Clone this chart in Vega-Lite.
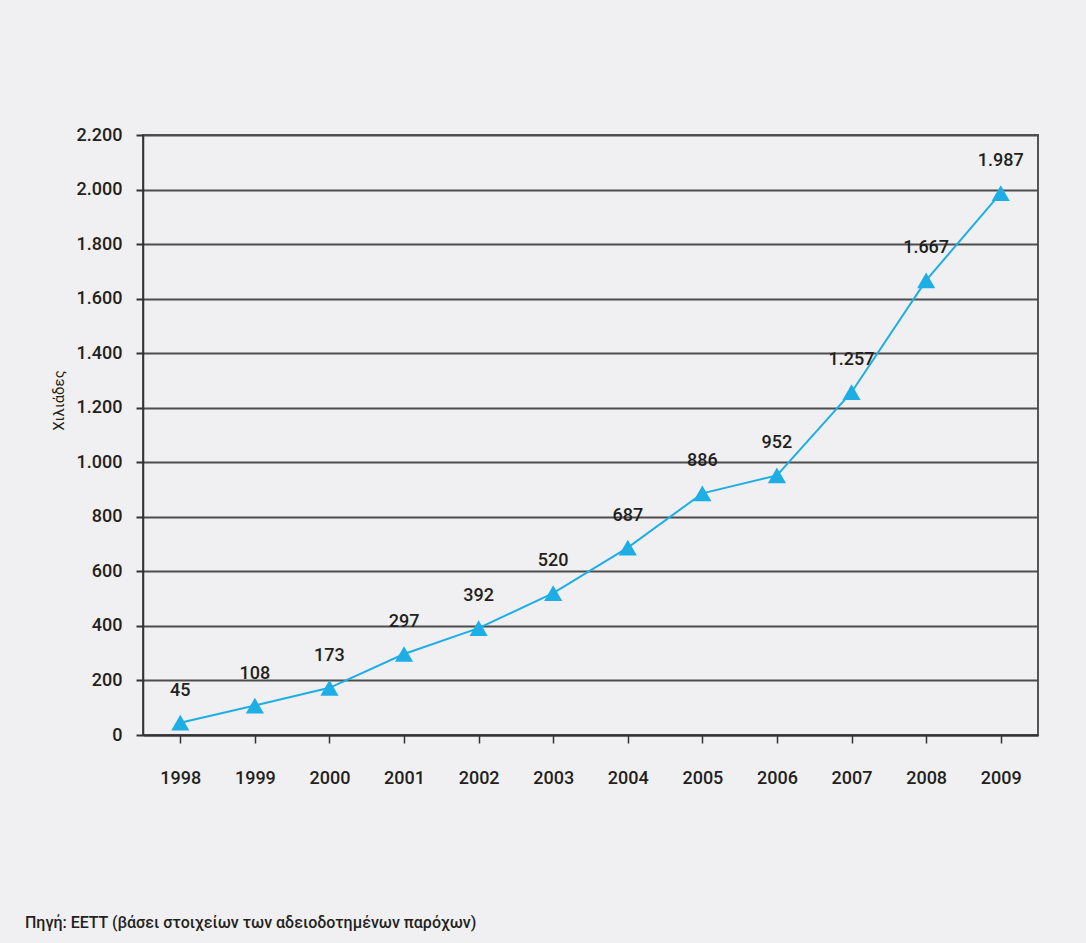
{
  "$schema": "https://vega.github.io/schema/vega-lite/v6.json",
  "width": 895,
  "height": 600,
  "autosize": {"type": "none"},
  "padding": {"left": 143, "top": 135, "right": 48, "bottom": 208},
  "background": "#f0f0f2",
  "config": {
    "locale": {"number": {"decimal": ",", "thousands": ".", "grouping": [3], "currency": ["", "€"]}},
    "view": {"stroke": "#555555", "strokeWidth": 2},
    "font": "Roboto"
  },
  "title": {
    "text": "Πηγή: ΕΕΤΤ (βάσει στοιχείων των αδειοδοτημένων παρόχων)",
    "orient": "bottom",
    "anchor": "start",
    "frame": "group",
    "offset": 128,
    "dx": -118,
    "fontSize": 16,
    "fontWeight": 500,
    "color": "#231f20",
    "font": "Roboto"
  },
  "data": {
    "values": [
      {"year": "1998", "value": 45},
      {"year": "1999", "value": 108},
      {"year": "2000", "value": 173},
      {"year": "2001", "value": 297},
      {"year": "2002", "value": 392},
      {"year": "2003", "value": 520},
      {"year": "2004", "value": 687},
      {"year": "2005", "value": 886},
      {"year": "2006", "value": 952},
      {"year": "2007", "value": 1257},
      {"year": "2008", "value": 1667},
      {"year": "2009", "value": 1987}
    ]
  },
  "encoding": {
    "x": {
      "field": "year",
      "type": "ordinal",
      "scale": {"paddingInner": 0, "paddingOuter": 0},
      "axis": {
        "title": null,
        "labelAngle": 0,
        "bandPosition": 0,
        "labelFont": "Roboto",
        "labelFontSize": 18,
        "labelFontWeight": 500,
        "labelColor": "#231f20",
        "labelPadding": 26,
        "domainColor": "#333333",
        "domainWidth": 2,
        "tickColor": "#333333",
        "tickWidth": 1.5,
        "tickSize": 8,
        "grid": false
      }
    },
    "y": {
      "field": "value",
      "type": "quantitative",
      "scale": {"domain": [0, 2200], "nice": false},
      "axis": {
        "title": "Χιλιάδες",
        "titleFont": "Roboto",
        "titleFontSize": 15,
        "titleFontWeight": "normal",
        "titleColor": "#231f20",
        "titlePadding": 10,
        "titleY": 265,
        "values": [0, 200, 400, 600, 800, 1000, 1200, 1400, 1600, 1800, 2000, 2200],
        "format": ",d",
        "labelFont": "Roboto",
        "labelFontSize": 18,
        "labelFontWeight": 500,
        "labelColor": "#231f20",
        "labelPadding": 14,
        "grid": true,
        "gridColor": "#4d4d4d",
        "gridWidth": 2,
        "gridOpacity": 1,
        "domainColor": "#333333",
        "domainWidth": 1.5,
        "tickColor": "#333333",
        "tickWidth": 2,
        "tickSize": 7
      }
    }
  },
  "layer": [
    {
      "mark": {"type": "line", "color": "#1eaee6", "strokeWidth": 2},
      "encoding": {}
    },
    {
      "mark": {"type": "point", "shape": "triangle-up", "filled": true, "color": "#1eaee6", "opacity": 1, "size": 330},
      "encoding": {}
    },
    {
      "mark": {"type": "text", "dy": -32, "fontSize": 18, "fontWeight": 500, "font": "Roboto", "color": "#231f20"},
      "encoding": {"text": {"field": "value", "type": "quantitative", "format": ",d"}}
    }
  ]
}
